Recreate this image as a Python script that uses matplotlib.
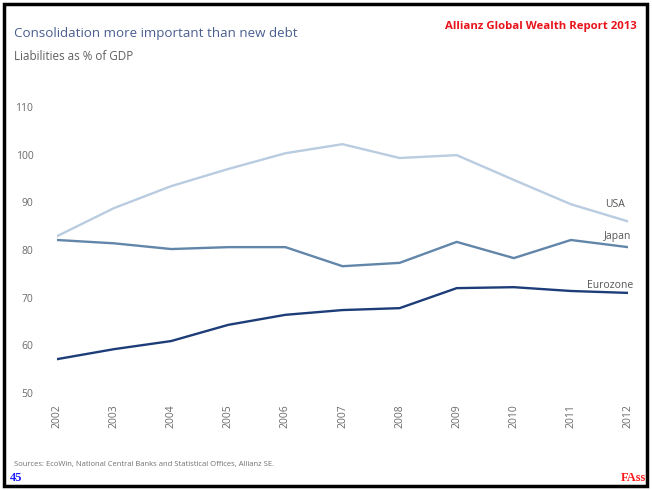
import matplotlib
matplotlib.use("Agg")
import matplotlib.pyplot as plt
from matplotlib.patches import Rectangle

years = [2002, 2003, 2004, 2005, 2006, 2007, 2008, 2009, 2010, 2011, 2012]
usa = [82.9, 88.8, 93.4, 97.0, 100.3, 102.2, 99.3, 99.9, 94.7, 89.6, 86.0]
japan = [82.1, 81.4, 80.2, 80.6, 80.6, 76.6, 77.3, 81.7, 78.3, 82.1, 80.6]
eurozone = [57.1, 59.2, 60.9, 64.3, 66.4, 67.4, 67.8, 72.0, 72.2, 71.4, 71.0]
yticks = [50, 60, 70, 80, 90, 100, 110]

fnt = ["Open Sans", "DejaVu Sans"]
gray = "#6b6b6b"

fig = plt.figure(figsize=(6.52, 4.9), dpi=100)
ax = fig.add_axes([57/652, 1-393/490, (628-57)/652, (393-107)/490])

ax.plot(years, usa, color="#b9cce0", lw=1.7)
ax.plot(years, japan, color="#6286aa", lw=1.7)
ax.plot(years, eurozone, color="#1d3d78", lw=1.7)

ax.set_xlim(2002, 2012)
ax.set_ylim(50, 110)
ax.set_yticks(yticks)
ax.set_xticks(years)
ax.set_xticklabels([str(y) for y in years], rotation=90, fontsize=7.5, color=gray, family=fnt)
ax.set_yticklabels([str(v) for v in yticks], fontsize=7.5, color=gray, family=fnt)
for s in ax.spines.values():
    s.set_visible(False)
ax.tick_params(length=0, pad=8)
ax.tick_params(axis="y", pad=17)

ax.text(2011.95, 88.3, "USA", ha="right", va="bottom", fontsize=7.5, color="#555555", family=fnt)
ax.text(2012.05, 81.7, "Japan", ha="right", va="bottom", fontsize=7.5, color="#555555", family=fnt)
ax.text(2012.1, 71.4, "Eurozone", ha="right", va="bottom", fontsize=7.5, color="#555555", family=fnt)

fig.text(14/652, 1-33/490, "Consolidation more important than new debt", fontsize=9.6,
         color="#4a5f8f", family=fnt, va="center")
fig.text(14/652, 1-57/490, "Liabilities as % of GDP", fontsize=8.4, color="#606060",
         family=fnt, va="center")
fig.text(637/652, 1-27/490, "Allianz Global Wealth Report 2013", fontsize=8.2,
         color="#e8141b", weight="bold", family=fnt, ha="right", va="center")
fig.text(14/652, 1-464/490, "Sources: EcoWin, National Central Banks and Statistical Offices, Allianz SE.",
         fontsize=5.5, color="#707070", family=fnt, va="center")
fig.text(10/652, 1-478/490, "45", fontsize=9, color="#1a1aff", weight="bold",
         family="Liberation Serif", va="center")
fig.text(646/652, 1-478/490, "FAss", fontsize=9, color="#ff1a1a", weight="bold",
         family="Liberation Serif", ha="right", va="center")

fig.patches.append(Rectangle((4/652, 4/490), 643/652, 482/490, transform=fig.transFigure,
                             fill=False, edgecolor="black", lw=2.5))

fig.savefig("out.png", dpi=100)
